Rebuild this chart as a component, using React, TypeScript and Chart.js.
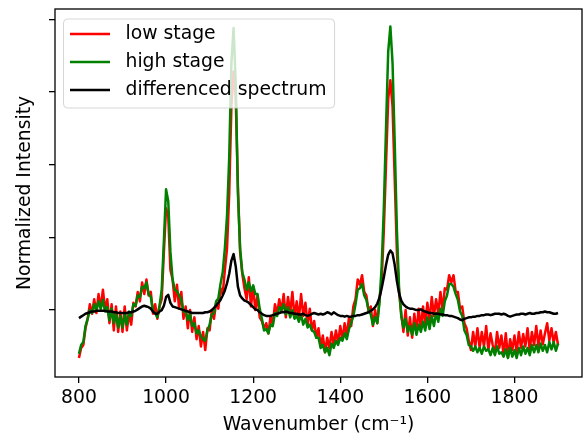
import React, { useEffect, useRef } from 'react';
import { Chart, registerables } from 'chart.js';
Chart.register(...registerables);

const FONT = "'DejaVu Sans', 'Liberation Sans', sans-serif";
const FONT_SIZE = 18.8;

// Sampling grid of the spectra (cm^-1)
const WN_START = 800;
const WN_STEP = 5;

const seriesLabels = ['low stage', 'high stage', 'differenced spectrum'];
const seriesColors = ['#ff0000', '#008000', '#000000'];

// low stage, 800 .. 1900 every 5 cm^-1
const lowStage = [
  -0.66, -0.52, -0.48, -0.25, -0.12, 0.08, -0.05, 0.15, -0.04, 0.22, 0.02, 0.28, 0.00, 0.15, -0.18, 0.08, -0.28, 0.05, -0.30, -0.02,
  -0.30, 0.05, -0.28, -0.05, -0.20, 0.10, 0.05, 0.25, 0.12, 0.38, 0.22, 0.42, 0.20, 0.25, -0.05, 0.08, -0.12, 0.05, 0.15, 0.80,
  1.40, 1.30, 0.55, 0.42, 0.12, 0.35, 0.02, 0.25, -0.12, 0.05, -0.25, 0.00, -0.30, -0.10, -0.40, -0.22, -0.50, -0.30, -0.55, -0.25,
  -0.28, 0.00, -0.12, 0.10, 0.02, 0.30, 0.22, 0.55, 0.85, 1.60, 2.80, 3.28, 2.90, 1.70, 0.80, 0.50, 0.30, 0.15, 0.45, 0.05,
  0.32, 0.00, 0.20, -0.10, -0.15, -0.25, -0.18, -0.32, -0.08, -0.20, 0.08, -0.05, 0.15, -0.02, 0.22, -0.10, 0.18, -0.05, 0.25, -0.10,
  0.12, -0.12, 0.22, -0.08, 0.10, -0.20, 0.02, -0.28, -0.15, -0.38, -0.25, -0.50, -0.35, -0.58, -0.38, -0.52, -0.30, -0.48, -0.28, -0.45,
  -0.22, -0.40, -0.18, -0.35, -0.10, -0.22, 0.05, 0.15, 0.42, 0.35, 0.48, 0.25, 0.20, -0.02, 0.05, -0.22, 0.00, -0.18, 0.15, 0.40,
  1.10, 2.00, 2.90, 3.16, 2.80, 1.80, 0.80, 0.25, -0.05, -0.30, 0.00, -0.35, -0.10, -0.38, -0.05, -0.30, 0.02, -0.25, 0.05, -0.20,
  0.10, -0.15, 0.18, -0.08, 0.15, -0.05, 0.25, 0.00, 0.30, 0.28, 0.48, 0.38, 0.48, 0.25, 0.25, 0.02, 0.05, -0.18, -0.25, -0.42,
  -0.55, -0.30, -0.50, -0.25, -0.52, -0.30, -0.50, -0.22, -0.55, -0.32, -0.48, -0.60, -0.30, -0.52, -0.35, -0.62, -0.32, -0.65, -0.40, -0.55,
  -0.35, -0.58, -0.30, -0.52, -0.33, -0.50, -0.25, -0.55, -0.30, -0.48, -0.22, -0.50, -0.28, -0.47, -0.32, -0.18, -0.42, -0.25, -0.45, -0.30, -0.48,
];

// high stage, 800 .. 1900 every 5 cm^-1
const highStage = [
  -0.60, -0.48, -0.44, -0.22, -0.12, 0.00, -0.04, 0.08, 0.00, 0.12, 0.02, 0.14, -0.02, 0.04, -0.14, 0.02, -0.18, -0.04, -0.24, -0.08,
  -0.24, -0.06, -0.20, -0.02, -0.08, 0.08, 0.06, 0.20, 0.18, 0.32, 0.30, 0.38, 0.22, 0.18, -0.02, -0.04, -0.10, 0.06, 0.28, 0.95,
  1.66, 1.50, 0.80, 0.42, 0.28, 0.26, 0.20, 0.14, -0.02, -0.02, -0.14, -0.05, -0.22, -0.18, -0.32, -0.28, -0.36, -0.40, -0.42, -0.28,
  -0.20, -0.06, -0.04, 0.12, 0.16, 0.36, 0.52, 0.85, 1.30, 2.10, 3.40, 3.88, 3.10, 1.60, 0.85, 0.52, 0.42, 0.28, 0.38, 0.26,
  0.34, 0.22, 0.22, 0.02, -0.12, -0.28, -0.26, -0.32, -0.20, -0.22, -0.04, -0.08, 0.04, 0.00, 0.08, -0.06, 0.04, -0.10, 0.00, -0.12,
  -0.08, -0.16, -0.06, -0.20, -0.12, -0.24, -0.20, -0.28, -0.30, -0.38, -0.38, -0.52, -0.48, -0.58, -0.52, -0.62, -0.46, -0.52, -0.42, -0.48,
  -0.38, -0.42, -0.32, -0.40, -0.26, -0.18, -0.08, 0.08, 0.28, 0.30, 0.36, 0.20, 0.14, 0.00, -0.06, -0.20, -0.10, -0.18, 0.10, 0.60,
  1.40, 2.50, 3.55, 3.90, 3.40, 2.30, 1.10, 0.30, -0.08, -0.24, -0.12, -0.30, -0.22, -0.34, -0.18, -0.34, -0.20, -0.30, -0.16, -0.28,
  -0.10, -0.26, -0.08, -0.22, -0.04, -0.16, 0.02, -0.08, 0.12, 0.20, 0.36, 0.36, 0.32, 0.22, 0.14, -0.02, -0.08, -0.28, -0.34, -0.48,
  -0.50, -0.56, -0.50, -0.58, -0.52, -0.60, -0.50, -0.56, -0.54, -0.62, -0.52, -0.62, -0.50, -0.60, -0.58, -0.64, -0.54, -0.66, -0.52, -0.64,
  -0.55, -0.66, -0.52, -0.62, -0.50, -0.60, -0.52, -0.62, -0.48, -0.58, -0.48, -0.58, -0.46, -0.56, -0.48, -0.58, -0.44, -0.54, -0.44, -0.56, -0.46,
];

// differenced spectrum, 800 .. 1900 every 5 cm^-1
const differenced = [
  -0.11, -0.09, -0.07, -0.05, -0.04, -0.03, -0.02, -0.02, -0.01, -0.01, -0.01, -0.01, -0.01, -0.02, -0.02, -0.02, -0.03, -0.03, -0.04, -0.04,
  -0.04, -0.04, -0.04, -0.03, -0.03, -0.02, -0.01, 0.01, 0.03, 0.05, 0.06, 0.05, 0.04, 0.02, -0.02, -0.05, -0.05, -0.02, 0.00, 0.06,
  0.18, 0.21, 0.10, 0.05, 0.04, 0.03, 0.02, 0.01, 0.00, -0.01, -0.02, -0.03, -0.04, -0.04, -0.04, -0.04, -0.04, -0.04, -0.03, -0.03,
  -0.02, 0.00, 0.03, 0.06, 0.10, 0.14, 0.20, 0.27, 0.37, 0.50, 0.68, 0.77, 0.60, 0.32, 0.20, 0.16, 0.13, 0.12, 0.10, 0.07,
  0.04, 0.01, 0.00, -0.03, -0.05, -0.07, -0.08, -0.08, -0.08, -0.07, -0.06, -0.05, -0.04, -0.03, -0.03, -0.02, -0.03, -0.04, -0.04, -0.05,
  -0.05, -0.06, -0.06, -0.05, -0.07, -0.08, -0.07, -0.05, -0.04, -0.05, -0.06, -0.05, -0.06, -0.05, -0.03, -0.04, -0.06, -0.03, -0.05, -0.07,
  -0.08, -0.08, -0.09, -0.08, -0.09, -0.09, -0.08, -0.08, -0.07, -0.07, -0.06, -0.05, -0.04, -0.03, -0.01, 0.01, 0.04, 0.09, 0.17, 0.30,
  0.45, 0.62, 0.76, 0.82, 0.78, 0.62, 0.40, 0.23, 0.13, 0.08, 0.05, 0.03, 0.02, 0.02, 0.01, 0.00, 0.00, 0.01, -0.01, -0.02,
  -0.03, -0.04, -0.04, -0.05, -0.05, -0.05, -0.06, -0.06, -0.07, -0.07, -0.08, -0.08, -0.09, -0.10, -0.11, -0.13, -0.14, -0.12, -0.11, -0.10,
  -0.10, -0.09, -0.09, -0.08, -0.08, -0.07, -0.07, -0.06, -0.06, -0.07, -0.06, -0.05, -0.05, -0.05, -0.06, -0.05, -0.06, -0.08, -0.09, -0.08,
  -0.07, -0.06, -0.06, -0.05, -0.05, -0.06, -0.05, -0.04, -0.05, -0.05, -0.04, -0.04, -0.03, -0.03, -0.02, -0.03, -0.03, -0.04, -0.05, -0.05, -0.04,
];

const xTicks = [800, 1000, 1200, 1400, 1600, 1800];
const yTicks = [0, 1, 2, 3, 4];
const xRange = [745, 1955];
const yRange = [-0.92, 4.14];

function roundRectPath(ctx: CanvasRenderingContext2D, x: number, y: number, w: number, h: number, r: number) {
  ctx.beginPath();
  ctx.moveTo(x + r, y);
  ctx.arcTo(x + w, y, x + w, y + h, r);
  ctx.arcTo(x + w, y + h, x, y + h, r);
  ctx.arcTo(x, y + h, x, y, r);
  ctx.arcTo(x, y, x + w, y, r);
  ctx.closePath();
}

const frameLegendPlugin = {
  id: 'frameLegend',
  afterDatasetsDraw(chart: any) {
    const { ctx, chartArea: a } = chart;
    ctx.save();
    ctx.font = `${FONT_SIZE}px ${FONT}`;
    const datasets = chart.data.datasets;
    const maxW = Math.max(...datasets.map((d: any) => ctx.measureText(d.label).width));
    const lx = a.left + 8.5;
    const ly = a.top + 10;
    const textX = a.left + 70.5;
    const w = textX + maxW + 8 - lx;
    const h = 89;
    roundRectPath(ctx, lx, ly, w, h, 4);
    ctx.fillStyle = 'rgba(255,255,255,0.8)';
    ctx.fill();
    ctx.strokeStyle = 'rgba(204,204,204,0.8)';
    ctx.lineWidth = 1;
    ctx.stroke();
    datasets.forEach((d: any, i: number) => {
      const y = ly + 15 + i * 28;
      ctx.beginPath();
      ctx.moveTo(a.left + 15, y);
      ctx.lineTo(a.left + 55, y);
      ctx.strokeStyle = d.borderColor;
      ctx.lineWidth = 2.4;
      ctx.stroke();
      ctx.fillStyle = '#000';
      ctx.textBaseline = 'middle';
      ctx.textAlign = 'left';
      ctx.fillText(d.label, textX, y);
    });
    ctx.restore();
  },
  afterDraw(chart: any) {
    const { ctx, chartArea: a } = chart;
    ctx.save();
    ctx.strokeStyle = '#000';
    ctx.lineWidth = 1.3;
    ctx.strokeRect(a.left, a.top, a.right - a.left, a.bottom - a.top);
    ctx.restore();
  },
};

export default function App() {
  const ref = useRef<HTMLCanvasElement>(null);
  useEffect(() => {
    const toPoints = (vals: number[]) => vals.map((y, i) => ({ x: WN_START + i * WN_STEP, y }));
    const series = [lowStage, highStage, differenced];
    const chart = new Chart(ref.current as HTMLCanvasElement, {
      type: 'line',
      data: {
        datasets: series.map((vals, i) => ({
          label: seriesLabels[i],
          data: toPoints(vals),
          borderColor: seriesColors[i],
          backgroundColor: seriesColors[i],
          borderWidth: 2.5,
          pointRadius: 0,
          tension: 0,
          fill: false,
          borderJoinStyle: 'round',
          order: 3 - i,
        })),
      },
      options: {
        animation: false,
        responsive: false,
        devicePixelRatio: 1,
        layout: { padding: { top: 9, right: 1, left: 0, bottom: 0 } },
        plugins: { legend: { display: false }, tooltip: { enabled: false } },
        scales: {
          x: {
            type: 'linear',
            min: xRange[0],
            max: xRange[1],
            afterBuildTicks: (s: any) => { s.ticks = xTicks.map((v) => ({ value: v })); },
            afterFit: (s: any) => { s.height = 60; },
            grid: { drawOnChartArea: false, drawTicks: true, tickLength: 6, color: '#000', lineWidth: 1.3 },
            border: { display: false },
            ticks: {
              color: '#000', font: { family: FONT, size: FONT_SIZE }, padding: 4, maxRotation: 0, autoSkip: false,
              callback: (v: any) => String(v),
            },
            title: { display: true, text: 'Wavenumber (cm⁻¹)', color: '#000', font: { family: FONT, size: FONT_SIZE }, padding: { top: 0, bottom: 1 } },
          },
          y: {
            type: 'linear',
            min: yRange[0],
            max: yRange[1],
            afterBuildTicks: (s: any) => { s.ticks = yTicks.map((v) => ({ value: v })); },
            afterFit: (s: any) => { s.width = 55; },
            grid: { drawOnChartArea: false, drawTicks: true, tickLength: 6, color: '#000', lineWidth: 1.3 },
            border: { display: false },
            ticks: { display: false },
            title: { display: true, text: 'Normalized Intensity', color: '#000', font: { family: FONT, size: FONT_SIZE }, padding: { top: 14, bottom: 0 } },
          },
        },
      },
      plugins: [frameLegendPlugin],
    } as any);
    return () => chart.destroy();
  }, []);
  return (
    <div style={{ position: 'absolute', left: 0, top: 0, width: 583, height: 437 }}>
      <canvas ref={ref} width={583} height={437} style={{ display: 'block' }} />
    </div>
  );
}
